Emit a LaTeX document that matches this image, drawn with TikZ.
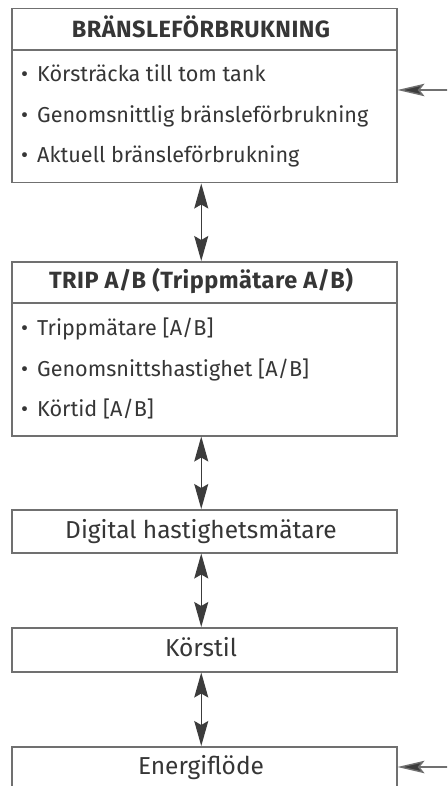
\documentclass[tikz,border=0pt]{standalone}
\usepackage{fontspec}
\setmainfont{Fira Sans}
\newfontfamily\headfont{Fira Sans}[LetterSpace=2]
\usetikzlibrary{arrows.meta}
\definecolor{boxline}{HTML}{707070}
\definecolor{txt}{HTML}{363636}
\definecolor{tip}{HTML}{3C3C3C}
\begin{document}
\begin{tikzpicture}[x=1pt,y=-1pt,
  box/.style={draw=boxline, line width=1.5pt, anchor=north west, inner sep=0pt, minimum width=385pt},
  sep/.style={draw=boxline, line width=1.5pt},
  head/.style={anchor=base, text=txt, font=\fontsize{23.5}{26}\selectfont\headfont\bfseries, inner sep=0pt},
  item/.style={anchor=base west, text=txt, font=\fontsize{21.6}{26}\selectfont, inner sep=0pt},
  label/.style={anchor=base, text=txt, font=\fontsize{24.5}{28}\selectfont, inner sep=0pt},
  tipstyle/.tip={Stealth[length=25pt, width=14pt, inset=4pt]},
  dbl/.style={draw=tip, line width=1.3pt, {tipstyle}-{tipstyle}, fill=tip},
  inarr/.style={draw=boxline, line width=1.4pt, -{Stealth[length=27pt, width=12.5pt, inset=5pt, fill=tip]}}
]
\useasboundingbox (0,0) rectangle (447,786);
\clip (0,0) rectangle (447,786);
\fill[white] (0,0) rectangle (447,786);
% box 1
\node[box, minimum height=174pt] (b1) at (11,8) {};
\draw[sep] (11,50) -- (396,50);
\node[head] (h1) at (201,38) {BRÄNSLEFÖRBRUKNING};
\node[item] (i11) at (37,82) {\llap{\textbullet\hspace{9pt}}Körsträcka till tom tank};
\node[item] (i12) at (37,123) {\llap{\textbullet\hspace{9pt}}Genomsnittlig bränsleförbrukning};
\node[item] (i13) at (37,163) {\llap{\textbullet\hspace{9pt}}Aktuell bränsleförbrukning};
% box 2
\node[box, minimum height=174pt] (b2) at (11,261) {};
\draw[sep] (11,303) -- (396,303);
\node[head] (h2) at (201,288) {TRIP A/B (Trippmätare A/B)};
\node[item] (i21) at (37,335) {\llap{\textbullet\hspace{9pt}}Trippmätare [A/B]};
\node[item] (i22) at (37,376) {\llap{\textbullet\hspace{9pt}}Genomsnittshastighet [A/B]};
\node[item] (i23) at (37,416) {\llap{\textbullet\hspace{9pt}}Körtid [A/B]};
% box 3
\node[box, minimum height=43pt] (b3) at (11,509) {};
\node[label] (t3) at (201,538) {Digital hastighetsmätare};
% box 4
\node[box, minimum height=44pt] (b4) at (11,627) {};
\node[label] (t4) at (201,656) {Körstil};
% box 5
\node[box, minimum height=60pt] (b5) at (11,746) {};
\node[label] (t5) at (201,774) {Energiflöde};
% vertical arrows
\draw[dbl] ([xshift=-3pt]b1.south) -- ([xshift=-3pt]b2.north);
\draw[dbl] ([xshift=-3pt]b2.south) -- ([xshift=-3pt]b3.north);
\draw[dbl] ([xshift=-3pt]b3.south) -- ([xshift=-3pt]b4.north);
\draw[dbl] ([xshift=-3pt]b4.south) -- ([xshift=-3pt]b5.north);
% incoming arrows
\coordinate (in1) at (448,90);
\coordinate (in5) at (448,767);
\draw[inarr] (in1) -- (b1.east |- in1);
\draw[inarr] (in5) -- (b5.east |- in5);
\end{tikzpicture}
\end{document}
